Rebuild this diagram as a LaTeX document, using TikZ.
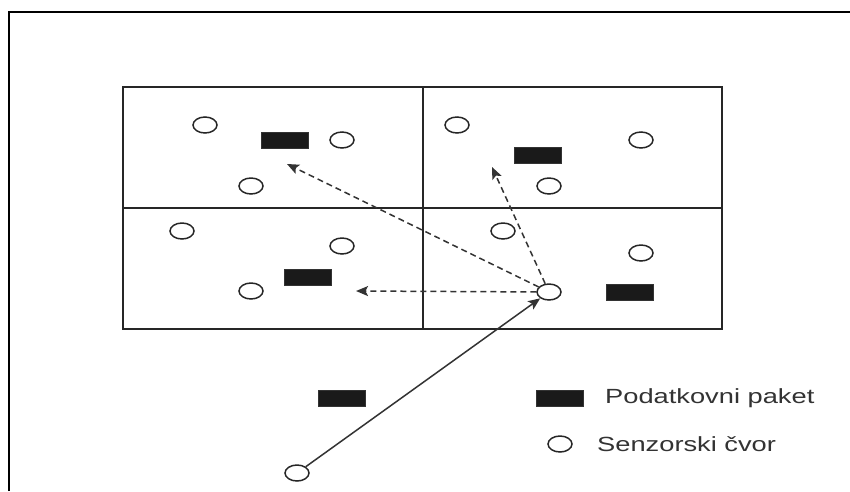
\documentclass[tikz,border=0pt]{standalone}
\usepackage{fontspec}
\setmainfont{Liberation Sans}
\usetikzlibrary{shapes.geometric,arrows.meta}
\definecolor{pkt}{HTML}{1A1A1A}
\definecolor{txt}{HTML}{333333}
\tikzset{
  sensor/.style={draw=black!85,line width=1.5pt,ellipse,minimum width=24pt,minimum height=16pt,inner sep=0pt,fill=white},
  packet/.style={draw=black!80,line width=0.5pt,fill=pkt,minimum width=47pt,minimum height=16pt,inner sep=0pt},
  gridline/.style={line width=1.7pt,draw=black!85},
  frameline/.style={line width=2.2pt,draw=black},
  dasharrow/.style={line width=1.5pt,draw=black!80,dash pattern=on 6pt off 4pt,-{Stealth[length=12pt,width=10pt,inset=2.5pt]}},
  solidarrow/.style={line width=1.5pt,draw=black!80,-{Stealth[length=12pt,width=10pt,inset=2.5pt]}},
  legendtext/.style={anchor=west,inner sep=0pt,text=txt,font=\fontsize{20.5pt}{24pt}\selectfont}
}
\begin{document}
\begin{tikzpicture}[x=1pt,y=-1pt]
\useasboundingbox (0,0) rectangle (850,491);
\fill[white] (0,0) rectangle (850,491);
% outer frame (top and left)
\draw[frameline] (9,491) -- (9,12) -- (850,12);
% grid
\draw[gridline] (123,87) rectangle (722,329);
\draw[gridline] (423,87) -- (423,329);
\draw[gridline] (123,208) -- (722,208);
% packets
\node[packet] (p1) at (285,140) {};
\node[packet] (p2) at (308,277) {};
\node[packet] (p3) at (538,155) {};
\node[packet] (p4) at (630,292) {};
\node[packet] (p5) at (342,398) {};
\node[packet] (lp) at (560,398) {};
% arrow tip coordinates
\coordinate (t1) at (287,164);
\coordinate (t2) at (356,291);
\coordinate (t3) at (492,167);
% sensors
\node[sensor] (c1) at (205,125) {};
\node[sensor] (c2) at (342,140) {};
\node[sensor] (c3) at (251,186) {};
\node[sensor] (c4) at (182,231) {};
\node[sensor] (c5) at (342,246) {};
\node[sensor] (c6) at (251,291) {};
\node[sensor] (c7) at (457,125) {};
\node[sensor] (c8) at (641,140) {};
\node[sensor] (c9) at (549,186) {};
\node[sensor] (c10) at (503,231) {};
\node[sensor] (c11) at (641,253) {};
\node[sensor] (hub) at (549,292) {};
\node[sensor] (src) at (297,473) {};
\node[sensor] (lc) at (560,444) {};
% arrows
\draw[dasharrow] (hub) -- (t1);
\draw[dasharrow] (hub) -- (t2);
\draw[dasharrow] (hub) -- (t3);
\draw[solidarrow] (src) -- (hub);
% legend text
\node[legendtext] (lt1) at (605,398) {\scalebox{1.33}[1]{Podatkovni paket}};
\node[legendtext] (lt2) at (597,444) {\scalebox{1.33}[1]{Senzorski čvor}};
\end{tikzpicture}
\end{document}
